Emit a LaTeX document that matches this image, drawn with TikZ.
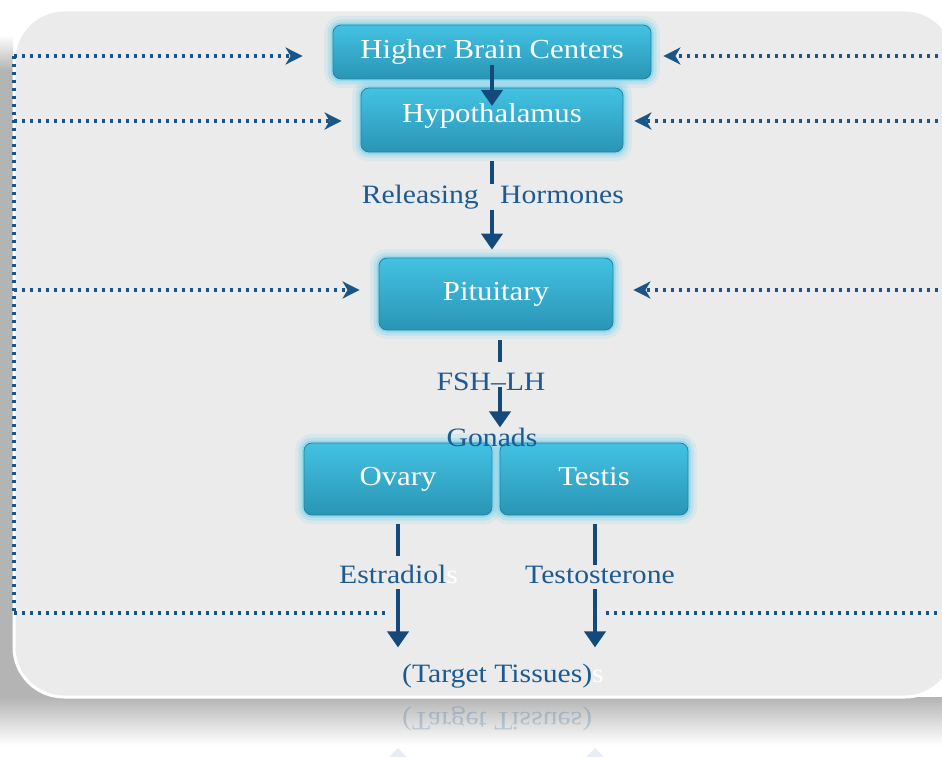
\documentclass[tikz,border=0pt]{standalone}
\usepackage{fontspec}
\usetikzlibrary{arrows.meta,calc}
\newfontfamily\diafont[FakeStretch=1.12]{Liberation Serif}
\definecolor{panelgray}{HTML}{EBEBEB}
\definecolor{shadowgray}{HTML}{B4B4B4}
\definecolor{boxtop}{HTML}{43C2E3}
\definecolor{boxbot}{HTML}{2A95B5}
\definecolor{boxedge}{HTML}{2581A0}
\definecolor{glow}{HTML}{5CCDEB}
\definecolor{navy}{HTML}{134A7B}
\definecolor{labelblue}{HTML}{1D5A92}
\definecolor{dotblue}{HTML}{1A5588}

\begin{document}
\begin{tikzpicture}[x=1pt,y=-1pt,
  organ/.style={rounded corners=8pt, top color=boxtop, bottom color=boxbot,
    draw=boxedge, line width=0.8pt, text=white, inner sep=0pt,
    text height=19pt, text depth=6pt,
    font=\diafont\fontsize{27.5}{30}\selectfont,
    preaction={draw=glow, line width=18pt, opacity=0.12},
    preaction={draw=glow, line width=11pt, opacity=0.22},
    preaction={draw=glow, line width=5pt, opacity=0.4}},
  lbl/.style={text=labelblue, inner sep=0pt, font=\diafont\fontsize{26.5}{30}\selectfont},
  flow/.style={draw=navy, line width=4pt},
  flowarr/.style={flow, -{Triangle[width=21pt,length=16pt]}},
  feedback/.style={draw=dotblue, line width=3.4pt, dash pattern=on 3.4pt off 4.6pt},
  feedarr/.style={feedback, -{Stealth[length=17pt,width=17pt,inset=5pt]}}
]
\useasboundingbox (0,0) rectangle (942,757);

% backdrop shadow and reflection fade
\fill[shadowgray] (0,70) rectangle (80,697);
\shade[top color=white, bottom color=shadowgray] (0,35) rectangle (13,70);
\shade[top color=shadowgray, bottom color=white] (0,697) rectangle (942,745);

% panel with light rim
\fill[panelgray, draw=white, line width=3pt, rounded corners=50pt] (14,10) rectangle (955,697);

% organ boxes
\node[organ, minimum width=318pt, minimum height=54pt] (hbc) at (492,52) {Higher Brain Centers};
\node[organ, minimum width=262pt, minimum height=64pt] (hyp) at (492,120) {\raisebox{4pt}{Hypothalamus}};
\node[organ, minimum width=234pt, minimum height=72pt] (pit) at (496,294) {Pituitary};
\node[organ, minimum width=188pt, minimum height=72pt] (ova) at (398,479) {Ovary};
\node[organ, minimum width=188pt, minimum height=72pt] (tes) at (594,479) {Testis};

% hormone labels
\node[lbl, anchor=base east] (rel) at (479,203) {Releasing};
\node[lbl, anchor=base west] (hor) at (500,203) {Hormones};
\node[lbl, anchor=base] (fshlab) at (491,390) {FSH–LH};
\node[lbl, anchor=base] (gon) at (492,446) {Gonads};
\node[lbl, anchor=base west] (estr) at (339,583) {Estradiol\textcolor{white}{s}};
\node[lbl, anchor=base] (testo) at (600,583) {Testosterone};
\node[lbl, anchor=base west] (tt) at (402,682) {(Target Tissues)\textcolor{white}{s}};
\node[lbl, anchor=base west, yscale=-1, opacity=0.22] (ttr) at (402,712) {(Target Tissues)};

% junction points on the hormone paths
\coordinate (rh) at (492,196);
\coordinate (fsh) at (500,380);
\coordinate (eo) at (398,575);
\coordinate (et) at (595,575);

% main hormone flow
\draw[flowarr] ($(hbc.center)+(0,13)$) -- ($(hyp.center)+(0,-14)$);
\draw[flow] ($(hyp.south -| rh)+(0,9)$) -- ($(rh)+(0,-12)$);
\draw[flowarr] ($(rh)+(0,14)$) -- ($(pit.north -| rh)+(0,-8)$);
\draw[flow] ($(pit.south -| fsh)+(0,10)$) -- ($(fsh)+(0,-18)$);
\draw[flowarr] ($(fsh)+(0,7)$) -- (gon.north -| fsh);
\draw[flow] ($(ova.south -| eo)+(0,9)$) -- ($(eo)+(0,-19)$);
\draw[flowarr] ($(eo)+(0,14)$) -- ($(tt.north -| eo)+(0,-16)$);
\draw[flow] ($(tes.south -| et)+(0,9)$) -- ($(et)+(0,-10)$);
\draw[flowarr] ($(et)+(0,14)$) -- ($(tt.north -| et)+(0,-16)$);

% faint reflected arrow tips
\fill[navy, opacity=0.1] (398,748) -- (389,757) -- (407,757) -- cycle;
\fill[navy, opacity=0.1] (595,748) -- (586,757) -- (604,757) -- cycle;

% feedback loops
\coordinate (L1) at (14,56);
\coordinate (L2) at (14,121);
\coordinate (L3) at (14,290);
\coordinate (L4) at (14,613);
\coordinate (R1) at (946,56);
\coordinate (R2) at (946,121);
\coordinate (R3) at (946,290);
\coordinate (R4) at (946,613);
\draw[feedback] (L1) -- (L4);
\draw[feedarr] (L1) -- ($(L1 -| hbc.west)+(-30,0)$);
\draw[feedarr] (R1) -- ($(R1 -| hbc.east)+(12,0)$);
\draw[feedarr] (L2) -- ($(L2 -| hyp.west)+(-19,0)$);
\draw[feedarr] (R2) -- ($(R2 -| hyp.east)+(11,0)$);
\draw[feedarr] (L3) -- ($(L3 -| pit.west)+(-19,0)$);
\draw[feedarr] (R3) -- ($(R3 -| pit.east)+(20,0)$);
\draw[feedback] (L4) -- ($(L4 -| eo)+(-10,0)$);
\draw[feedback] ($(R4 -| et)+(11,0)$) -- (R4);
\end{tikzpicture}
\end{document}
